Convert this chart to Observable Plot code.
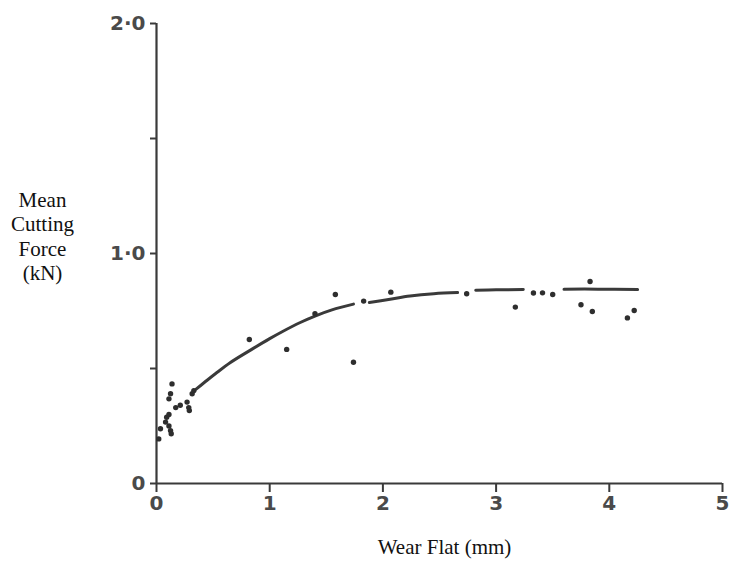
<!DOCTYPE html>
<html>
<head>
<meta charset="utf-8">
<script src="https://cdn.jsdelivr.net/npm/d3@7"></script>
<script src="https://cdn.jsdelivr.net/npm/@observablehq/plot@0.6"></script>
<style>
  html, body { margin: 0; padding: 0; background: #ffffff; }
  #chart { width: 732px; height: 565px; }
</style>
</head>
<body>
<div id="chart"></div>
<script>
// Scatter points: wear flat (mm) vs mean cutting force (kN)
const wearFlat = [0.02, 0.035, 0.08, 0.09, 0.11, 0.11, 0.11, 0.124, 0.124, 0.13, 0.137, 0.17, 0.21, 0.27, 0.285, 0.29, 0.315, 0.33,
                  0.82, 1.15, 1.40, 1.58, 1.74, 1.83, 2.07, 2.74, 3.17, 3.33, 3.41, 3.50, 3.75, 3.83, 3.85, 4.16, 4.22];
const cuttingForce = [0.194, 0.238, 0.267, 0.288, 0.30, 0.25, 0.368, 0.39, 0.23, 0.216, 0.433, 0.33, 0.34, 0.354, 0.33, 0.317, 0.39, 0.404,
                      0.626, 0.583, 0.738, 0.822, 0.527, 0.793, 0.832, 0.825, 0.767, 0.828, 0.829, 0.822, 0.777, 0.878, 0.748, 0.72, 0.752];

// Hand-drawn trend curve (drawn in pieces with small gaps)
const curveX = [0.35, 0.45, 0.52, 0.65, 0.83, 1.0, 1.11, 1.27, 1.40, 1.55, 1.74,
                1.88, 2.05, 2.24, 2.45, 2.66,
                2.82, 3.0, 3.24,
                3.6, 3.9, 4.25];
const curveY = [0.41, 0.45, 0.477, 0.525, 0.58, 0.63, 0.66, 0.70, 0.728, 0.755, 0.78,
                0.787, 0.80, 0.815, 0.825, 0.83,
                0.84, 0.842, 0.843,
                0.845, 0.845, 0.843];
const curveSeg = [1, 1, 1, 1, 1, 1, 1, 1, 1, 1, 1,
                  2, 2, 2, 2, 2,
                  3, 3, 3,
                  4, 4, 4];

// Axis ticks and labels
const xTickValues = [0, 1, 2, 3, 4, 5];
const xTickLabels = ["0", "1", "2", "3", "4", "5"];
const yTickValues = [0, 0.5, 1, 1.5, 2];
const yTickLabels = ["0", "", "1·0", "", "2·0"];
const xTitle = "Wear Flat (mm)";
const yTitle = "Mean\nCutting\nForce\n(kN)";

const points = wearFlat.map((x, i) => ({x, y: cuttingForce[i]}));
const curve = curveX.map((x, i) => ({x, y: curveY[i], seg: curveSeg[i]}));

const ink = "#3a3a3a";
const tickFont = "DejaVu Sans, sans-serif";
const titleFont = "Liberation Serif, Times New Roman, serif";

const chart = Plot.plot({
  width: 732,
  height: 565,
  marginLeft: 156,
  marginRight: 10,
  marginTop: 23,
  marginBottom: 82,
  style: { background: "#ffffff", overflow: "visible" },
  x: { domain: [0, 5] },
  y: { domain: [0, 2] },
  marks: [
    Plot.ruleX([0], { stroke: ink, strokeWidth: 2.2 }),
    Plot.ruleY([0], { stroke: ink, strokeWidth: 2.2 }),
    Plot.axisX({
      ticks: xTickValues,
      tickFormat: d => xTickLabels[xTickValues.indexOf(d)],
      tickSize: 9,
      tickPadding: 3,
      stroke: ink,
      strokeWidth: 2,
      fill: "#4a4a4a",
      fontSize: 20,
      fontWeight: "bold",
      fontFamily: tickFont,
      label: null
    }),
    Plot.axisY({
      ticks: yTickValues,
      tickFormat: d => yTickLabels[yTickValues.indexOf(d)],
      tickSize: 6,
      tickPadding: 5,
      stroke: ink,
      strokeWidth: 2,
      fill: "#4a4a4a",
      fontSize: 20,
      fontWeight: "bold",
      fontFamily: tickFont,
      label: null
    }),
    Plot.line(curve, { x: "x", y: "y", z: "seg", stroke: ink, strokeWidth: 3, curve: "catmull-rom" }),
    Plot.dot(points, { x: "x", y: "y", r: 2.7, fill: "#2e2e2e", stroke: "none" }),
    Plot.text([xTitle], {
      frameAnchor: "bottom", dx: 5, dy: 70,
      fontFamily: titleFont, fontSize: 21, fill: "#111"
    }),
    Plot.text([yTitle], {
      frameAnchor: "left", dx: -114, dy: -18, textAnchor: "middle", lineHeight: 1.17,
      fontFamily: titleFont, fontSize: 21, fill: "#111"
    })
  ]
});

document.getElementById("chart").appendChild(chart);
</script>
</body>
</html>
